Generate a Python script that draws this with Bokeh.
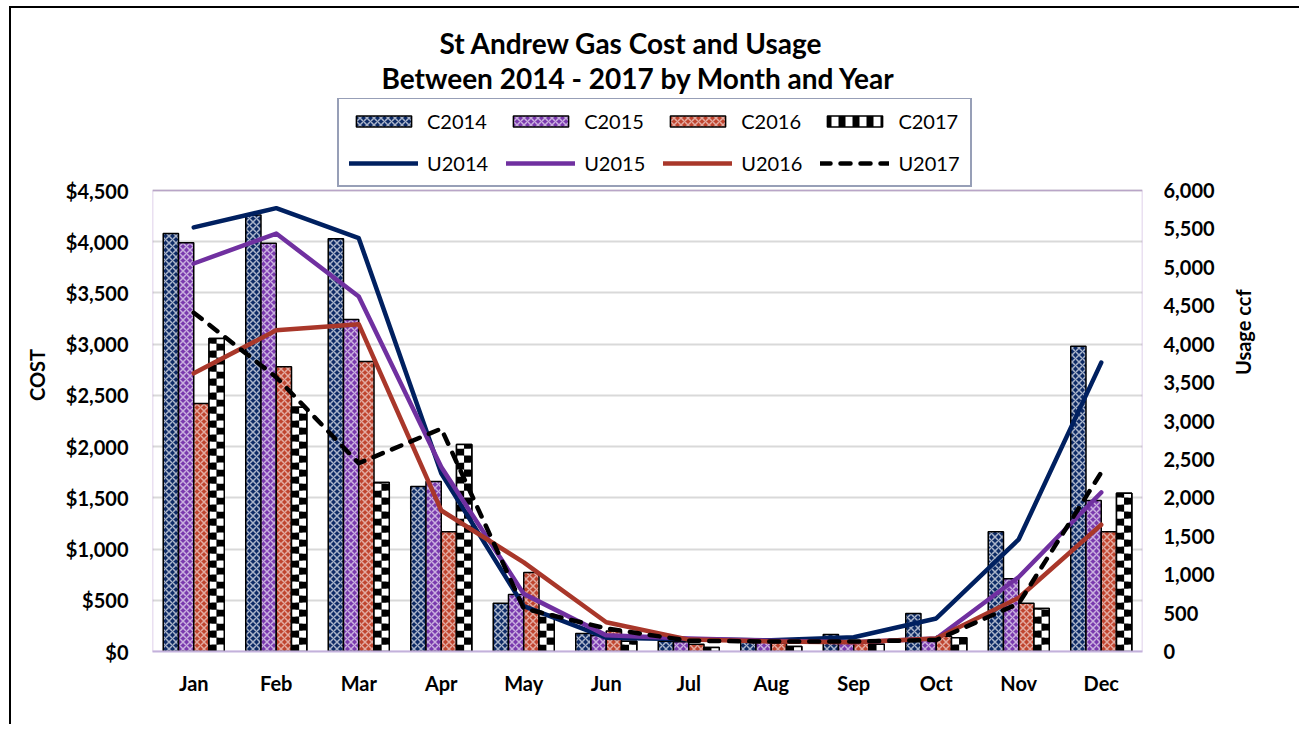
import math
from bokeh.plotting import figure
from bokeh.models import (ColumnDataSource, FactorRange, Range1d, LinearAxis, Legend, LegendItem,
                          FixedTicker, NumeralTickFormatter, Title, BoxAnnotation)
from bokeh.transform import dodge
from bokeh.embed import file_html
from bokeh.resources import INLINE

months = ["Jan", "Feb", "Mar", "Apr", "May", "Jun", "Jul", "Aug", "Sep", "Oct", "Nov", "Dec"]

# Cost ($)
c2014 = [4080, 4260, 4030, 1610, 470, 175, 100, 125, 165, 370, 1170, 2980]
c2015 = [3990, 3985, 3240, 1660, 557, 155, 95, 100, 100, 120, 710, 1475]
c2016 = [2420, 2780, 2830, 1170, 770, 200, 70, 80, 80, 150, 470, 1170]
c2017 = [3055, 2385, 1650, 2020, 360, 100, 40, 50, 70, 135, 420, 1545]

# Usage (ccf)
u2014 = [5520, 5770, 5380, 2320, 590, 180, 160, 145, 185, 430, 1460, 3760]
u2015 = [5050, 5440, 4620, 2400, 750, 210, 170, 140, 120, 170, 970, 2070]
u2016 = [3620, 4180, 4260, 1835, 1160, 380, 155, 130, 120, 170, 700, 1650]
u2017 = [4410, 3570, 2450, 2900, 560, 300, 140, 130, 130, 150, 625, 2330]

cost_ticks = [0, 500, 1000, 1500, 2000, 2500, 3000, 3500, 4000, 4500]
usage_ticks = [0, 500, 1000, 1500, 2000, 2500, 3000, 3500, 4000, 4500, 5000, 5500, 6000]

source = ColumnDataSource(dict(month=months, c2014=c2014, c2015=c2015, c2016=c2016, c2017=c2017,
                               u2014=u2014, u2015=u2015, u2016=u2016, u2017=u2017))

FONT = "Lato"

# layout (pixels): plotting area is 461px tall for the axis maxima; the frame is extended upward
# so the legend can sit inside it, above the plotting area
AREA_H = 461
EXTRA_H = 92
scale_up = (AREA_H + EXTRA_H) / AREA_H
cost_max = cost_ticks[-1]
usage_max = usage_ticks[-1]

p = figure(x_range=FactorRange(factors=months), y_range=Range1d(0, cost_max * scale_up),
           width=1290, height=718, output_backend="svg", toolbar_location=None,
           min_border_left=141, min_border_right=159,
           min_border_bottom=75, min_border_top=90, title_location=None)
p.styles = {"margin-left": "9px", "margin-top": "6px",
            "border-left": "2px solid black", "border-top": "2px solid black"}
p.extra_y_ranges = {"usage": Range1d(0, usage_max * scale_up)}

t2 = Title(text="Between 2014 - 2017 by Month and Year", align="left", offset=229, text_font=FONT,
           text_font_style="bold", text_font_size="28px", text_color="black", standoff=8)
t1 = Title(text="St Andrew Gas Cost and Usage", align="left", offset=287, text_font=FONT,
           text_font_style="bold", text_font_size="28px", text_color="black", standoff=-10)
p.add_layout(t2, "above")
p.add_layout(t1, "above")

p.outline_line_color = None
p.background_fill_color = "white"
p.border_fill_color = "white"

p.xgrid.grid_line_color = None
p.ygrid.grid_line_color = "#D9D9D9"
p.ygrid.grid_line_width = 2
p.yaxis.ticker = FixedTicker(ticks=cost_ticks)

w = 0.185
offs = [-1.5 * w, -0.5 * w, 0.5 * w, 1.5 * w]
bar_specs = [
    ("c2014", "#0E2B66", dict(hatch_pattern="diagonal_cross", hatch_color="white", hatch_alpha=0.65,
                               hatch_scale=7, hatch_weight=1.5)),
    ("c2015", "#7A3AAE", dict(hatch_pattern="diagonal_cross", hatch_color="white", hatch_alpha=0.6,
                               hatch_scale=7, hatch_weight=1.5)),
    ("c2016", "#C0452F", dict(hatch_pattern="diagonal_cross", hatch_color="white", hatch_alpha=0.55,
                               hatch_scale=7, hatch_weight=1.5)),
    ("c2017", "white", dict(hatch_pattern="vertical_line", hatch_color="black",
                            hatch_scale=14, hatch_weight=7)),
]
bars = []
for (col, color, hatch), off in zip(bar_specs, offs):
    r = p.vbar(x=dodge("month", off, range=p.x_range), top=col, width=w, source=source,
               fill_color=color, line_color="black", line_width=1.5, **hatch)
    bars.append(r)

# checkerboard fill of the C2017 bars: cells of ~7px, two columns per bar, derived from c2017
cell_h = cost_max / AREA_H * 7
for ci in range(2):
    cm, cb, ct, cc = [], [], [], []
    for m, v in zip(months, c2017):
        nrow = int(math.ceil(v / cell_h))
        for r in range(nrow):
            cm.append(m)
            cb.append(r * cell_h)
            ct.append(min((r + 1) * cell_h, v))
            cc.append("black" if (r + ci) % 2 == 0 else "white")
    csrc = ColumnDataSource(dict(month=cm, bottom=cb, top=ct, color=cc))
    p.vbar(x=dodge("month", offs[3] + (ci - 0.5) * w / 2, range=p.x_range), bottom="bottom",
           top="top", width=w / 2, source=csrc, fill_color="color", line_color=None)
p.vbar(x=dodge("month", offs[3], range=p.x_range), top="c2017", width=w, source=source,
       fill_color=None, line_color="black", line_width=1.5)

# purple border of the plotting area
p.add_layout(BoxAnnotation(bottom=0, top=cost_max, fill_alpha=0, line_color="#7030A0",
                           line_width=1.5, level="underlay"))

line_specs = [("u2014", "#002060", "solid"), ("u2015", "#7030A0", "solid"),
              ("u2016", "#A9372A", "solid"), ("u2017", "black", "10 10")]
lines = []
for col, color, dash in line_specs:
    r = p.line(x="month", y=col, source=source, y_range_name="usage", line_color=color,
               line_width=4.5, line_dash=dash, line_cap="round", line_join="round")
    lines.append(r)

# Axes
for ax in [p.xaxis[0], p.yaxis[0]]:
    ax.major_label_text_font = FONT
    ax.major_label_text_font_style = "bold"
    ax.major_label_text_font_size = "20px"
    ax.major_label_text_color = "black"
    ax.major_tick_line_color = None
    ax.minor_tick_line_color = None

p.yaxis[0].axis_line_color = None
p.yaxis[0].formatter = NumeralTickFormatter(format="$0,0")
p.yaxis[0].major_label_standoff = 18
p.yaxis[0].axis_label = "COST"
p.yaxis[0].axis_label_text_font = FONT
p.yaxis[0].axis_label_text_font_style = "bold"
p.yaxis[0].axis_label_text_font_size = "20px"
p.yaxis[0].axis_label_text_color = "black"
p.yaxis[0].axis_label_standoff = 14

p.xaxis[0].axis_line_color = "#C3B1DB"
p.xaxis[0].axis_line_width = 2
p.xaxis[0].major_label_standoff = 13

ry = LinearAxis(y_range_name="usage", ticker=FixedTicker(ticks=usage_ticks),
                formatter=NumeralTickFormatter(format="0,0"), axis_label="Usage ccf")
ry.axis_line_color = None
ry.major_tick_line_color = None
ry.minor_tick_line_color = None
ry.major_label_text_font = FONT
ry.major_label_text_font_style = "bold"
ry.major_label_text_font_size = "20px"
ry.major_label_text_color = "black"
ry.major_label_standoff = 15
ry.axis_label_text_font = FONT
ry.axis_label_text_font_style = "bold"
ry.axis_label_text_font_size = "20px"
ry.axis_label_text_color = "black"
ry.axis_label_standoff = 25
ry.axis_label_orientation = math.pi / 2
p.add_layout(ry, "right")

labels_c = ["C2014", "C2015", "C2016", "C2017"]
labels_u = ["U2014", "U2015", "U2016", "U2017"]
items = [LegendItem(label=l, renderers=[r]) for l, r in zip(labels_c, bars)] + \
        [LegendItem(label=l, renderers=[r]) for l, r in zip(labels_u, lines)]

legend = Legend(items=items, orientation="horizontal", nrows=2, location=(185, 464),
                label_text_font=FONT, label_text_font_size="20px", label_height=20,
                label_text_color="black",
                glyph_width=69, glyph_height=14, label_standoff=9, spacing=18,
                padding=10, margin=0, border_line_color="#2F3F6F", border_line_width=2,
                background_fill_color="white", background_fill_alpha=1.0)
p.add_layout(legend, "center")

open("out.html", "w").write(file_html(p, INLINE))
